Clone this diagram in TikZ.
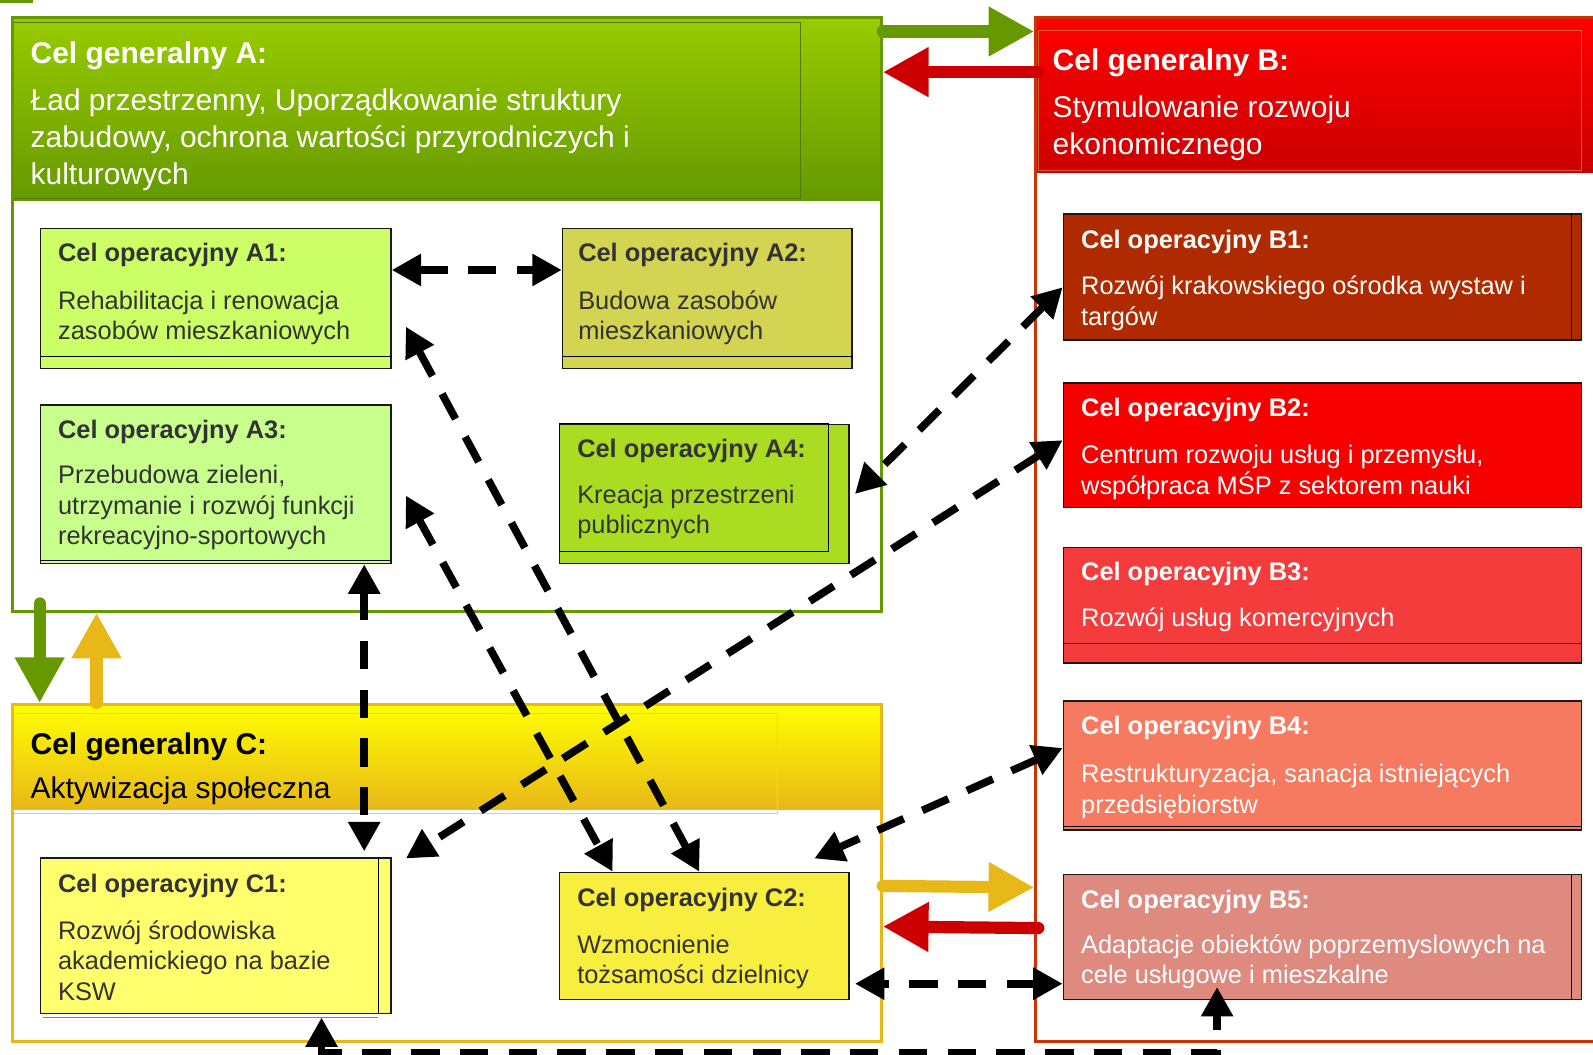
\documentclass[tikz,border=0pt]{standalone}
\usepackage{fontspec}
\setmainfont{Liberation Sans}
\usetikzlibrary{arrows.meta}
\definecolor{goalA}{HTML}{669900}
\definecolor{goalAtop}{HTML}{99CC00}
\definecolor{goalB}{HTML}{CC3300}
\definecolor{goalBtop}{HTML}{FF0000}
\definecolor{goalBbot}{HTML}{CC0000}
\definecolor{goalC}{HTML}{E8B818}
\definecolor{goalCtop}{HTML}{FFFF00}
\definecolor{fillAone}{HTML}{CCFF66}
\definecolor{fillAtwo}{HTML}{D2D452}
\definecolor{fillAthree}{HTML}{C8FF8C}
\definecolor{fillAfour}{HTML}{AADD22}
\definecolor{fillCone}{HTML}{FFFF6E}
\definecolor{fillCtwo}{HTML}{F8EE40}
\definecolor{fillBone}{HTML}{B02A00}
\definecolor{fillBtwo}{HTML}{F70000}
\definecolor{fillBthree}{HTML}{F43C3C}
\definecolor{fillBfour}{HTML}{F57A60}
\definecolor{fillBfive}{HTML}{DE8A7E}
\definecolor{txtdark}{HTML}{333333}
\begin{document}
\begin{tikzpicture}[x=1pt,y=-1pt,font=\fontsize{25}{30}\selectfont,
	goalframe/.style={draw=#1,line width=3pt,anchor=north west,inner sep=0pt},
	goalhead/.style={anchor=north west,inner sep=0pt,minimum width=#1},
	opbox/.style={draw=black!90,line width=1.5pt,anchor=north west,inner sep=0pt},
	optext/.style={anchor=north west,inner sep=0pt,align=left,text=#1},
	headtext/.style={anchor=north west,inner sep=0pt,align=left,text=#1,font=\fontsize{29.5}{36.5}\selectfont},
	link/.style={line width=7.5pt,dash pattern=on 28pt off 20pt,{Triangle[length=29pt,width=30pt]}-{Triangle[length=29pt,width=30pt]}},
	fat/.style={line width=12pt,line cap=round,draw=#1,-{Triangle[length=45pt,width=46pt]}}]
	\fill[goalA] (0,0) rectangle (32,3);
	% headers of the three general goals
	\node[goalhead=855pt,minimum height=181pt,top color=goalAtop,bottom color=goalA] (Ahead) at (11,16) {};
	\node[goalhead=575pt,minimum height=154pt,top color=goalBtop,bottom color=goalBbot] (Bhead) at (1018,16) {};
	\node[goalhead=855pt,minimum height=105pt,top color=goalCtop,bottom color=goalC] (Chead) at (11,692) {};
	\draw[goalA!80!black,thin] (11,22) rectangle (788,195);
	\draw[goalB!80,thin] (1022,30) rectangle (1556,168);
	\draw[goalC!70!white,thin] (11,702) rectangle (765,800);
	\node[goalframe=goalA,minimum width=855pt,minimum height=584pt] (A) at (11,16) {};
	\node[goalframe=goalB,minimum width=585pt,minimum height=1008pt] (B) at (1018,16) {};
	\node[goalframe=goalC,minimum width=855pt,minimum height=332pt] (C) at (11,692) {};
	\node[headtext=white] (At) at ([xshift=19pt,yshift=-25pt]A.north west) {\textbf{Cel generalny A:}\\[9.5pt]Ład przestrzenny, Uporządkowanie struktury\\zabudowy, ochrona wartości przyrodniczych i\\kulturowych};
	\node[headtext=white] (Bt) at ([xshift=18pt,yshift=-32pt]B.north west) {\textbf{Cel generalny B:}\\[9.5pt]Stymulowanie rozwoju\\ekonomicznego};
	\node[headtext=black] (Ct) at ([xshift=19pt,yshift=-29pt]C.north west) {\textbf{Cel generalny C:}\\[6.5pt]Aktywizacja społeczna};
	% operational goals
	\node[opbox,fill=fillAone,minimum width=345pt,minimum height=138pt] (A1) at (39,224) {};
	\node[opbox,fill=fillAtwo,minimum width=285pt,minimum height=138pt] (A2) at (553,224) {};
	\node[opbox,fill=fillAthree,minimum width=345pt,minimum height=156pt] (A3) at (39,398) {};
	\node[opbox,fill=fillAfour,minimum width=285pt,minimum height=137pt] (A4) at (550,417) {};
	\node[opbox,fill=fillCone,minimum width=345pt,minimum height=153pt] (C1) at (39,844) {};
	\node[opbox,fill=fillCtwo,minimum width=285pt,minimum height=125pt] (C2) at (550,858) {};
	\node[opbox,fill=fillBone,minimum width=510pt,minimum height=124pt] (B1) at (1046,210) {};
	\node[opbox,fill=fillBtwo,minimum width=510pt,minimum height=123pt] (B2) at (1046,376) {};
	\node[opbox,fill=fillBthree,minimum width=510pt,minimum height=114pt] (B3) at (1046,538) {};
	\node[opbox,fill=fillBfour,minimum width=510pt,minimum height=127pt] (B4) at (1046,689) {};
	\node[opbox,fill=fillBfive,minimum width=510pt,minimum height=123pt] (B5) at (1046,860) {};
	\draw[thin] ([yshift=13pt]A1.south west) -- ([yshift=13pt]A1.south east);
	\draw[thin] ([yshift=13pt]A2.south west) -- ([yshift=13pt]A2.south east);
	\draw[thin] ([yshift=4pt]A3.south west) -- ([yshift=4pt]A3.south east);
	\draw[thin] (A4.north west) rectangle ([xshift=-21pt,yshift=13pt]A4.south east);
	\draw[thin] ([xshift=-13pt]C1.north east) -- ([xshift=-13pt]C1.south east);
	\draw[gray,line width=1.5pt] ([xshift=3pt,yshift=-3pt]C1.south west) -- ([xshift=-13pt,yshift=-3pt]C1.south east);
	\draw[thin] ([xshift=-11pt]B1.north east) -- ([xshift=-11pt]B1.south east);
	\draw[thin] ([yshift=20pt]B3.south west) -- ([yshift=20pt]B3.south east);
	\draw[thin] ([yshift=4pt]B4.south west) -- ([yshift=4pt]B4.south east);
	\draw[thin] ([xshift=-11pt]B5.north east) -- ([xshift=-11pt]B5.south east);
	\node[optext=txtdark] (A1t) at ([xshift=18pt,yshift=-15pt]A1.north west) {\textbf{Cel operacyjny A1:}\\[17pt]Rehabilitacja i renowacja\\zasobów mieszkaniowych};
	\node[optext=txtdark] (A2t) at ([xshift=16pt,yshift=-15pt]A2.north west) {\textbf{Cel operacyjny A2:}\\[17pt]Budowa zasobów\\mieszkaniowych};
	\node[optext=txtdark] (A3t) at ([xshift=18pt,yshift=-15pt]A3.north west) {\textbf{Cel operacyjny A3:}\\[15pt]Przebudowa zieleni,\\utrzymanie i rozwój funkcji\\rekreacyjno-sportowych};
	\node[optext=txtdark] (A4t) at ([xshift=18pt,yshift=-15pt]A4.north west) {\textbf{Cel operacyjny A4:}\\[15pt]Kreacja przestrzeni\\publicznych};
	\node[optext=txtdark] (C1t) at ([xshift=18pt,yshift=-16pt]C1.north west) {\textbf{Cel operacyjny C1:}\\[16pt]Rozwój środowiska\\akademickiego na bazie\\KSW};
	\node[optext=txtdark] (C2t) at ([xshift=18pt,yshift=-16pt]C2.north west) {\textbf{Cel operacyjny C2:}\\[16pt]Wzmocnienie\\tożsamości dzielnicy};
	\node[optext=white] (B1t) at ([xshift=18pt,yshift=-16pt]B1.north west) {\textbf{Cel operacyjny B1:}\\[16pt]Rozwój krakowskiego ośrodka wystaw i\\targów};
	\node[optext=white] (B2t) at ([xshift=18pt,yshift=-16pt]B2.north west) {\textbf{Cel operacyjny B2:}\\[16pt]Centrum rozwoju usług i przemysłu,\\współpraca MŚP z sektorem nauki};
	\node[optext=white] (B3t) at ([xshift=18pt,yshift=-15pt]B3.north west) {\textbf{Cel operacyjny B3:}\\[15pt]Rozwój usług komercyjnych};
	\node[optext=white] (B4t) at ([xshift=18pt,yshift=-16pt]B4.north west) {\textbf{Cel operacyjny B4:}\\[17pt]Restrukturyzacja, sanacja istniejących\\przedsiębiorstw};
	\node[optext=white] (B5t) at ([xshift=18pt,yshift=-16pt]B5.north west) {\textbf{Cel operacyjny B5:}\\[14pt]Adaptacje obiektów poprzemyslowych na\\cele usługowe i mieszkalne};
	% links between operational goals
	\draw[link] ([yshift=28pt]A1.east) -- ([yshift=28pt]A2.west);
	\draw[link] ([xshift=14pt,yshift=42pt]A1.south east) -- ([xshift=-5pt]C2.north);
	\draw[link] ([xshift=14pt,yshift=-11pt]A3.east) -- ([xshift=53pt]C2.north west);
	\draw[link] ([xshift=-27pt]A3.south east) -- ([xshift=-27pt,yshift=6pt]C1.north east);
	\draw[link] ([yshift=-10pt]B1.west) -- ([xshift=5pt]A4.east);
	\draw[link] ([yshift=5pt]B2.west) -- ([xshift=14pt,yshift=-1pt]C1.north east);
	\draw[link] ([yshift=17pt]B4.west) -- ([xshift=-35pt,yshift=13pt]C2.north east);
	\draw[link] ([yshift=-46pt]B5.west) -- ([xshift=5pt,yshift=-47pt]C2.east);
	\draw[link] ([xshift=-69pt,yshift=-3pt]C1.south east) -- ++(0,35) -| ([xshift=152pt,yshift=13pt]B5.south west);
	% links between general goals
	\draw[fat=goalA] ([yshift=-15pt]A.north east) -- ([yshift=-15pt]B.north west);
	\draw[fat=goalBbot] ([xshift=4pt,yshift=-55pt]B.north west) -- ([yshift=-55pt]A.north east);
	\draw[fat=goalA] ([xshift=28pt,yshift=9pt]A.south west) -- ([xshift=28pt]C.north west);
	\draw[fat=goalC] ([xshift=84pt]C.north west) -- ([xshift=84pt]A.south west);
	\draw[fat=goalC] ([yshift=-180pt]C.north east) -- ([yshift=-352pt]B.west);
	\draw[fat=goalBbot] ([xshift=4pt,yshift=-392pt]B.west) -- ([yshift=-220pt]C.north east);
	\pgfresetboundingbox
	\useasboundingbox (0,0) rectangle (1568,1038.4);
\end{tikzpicture}
\end{document}
